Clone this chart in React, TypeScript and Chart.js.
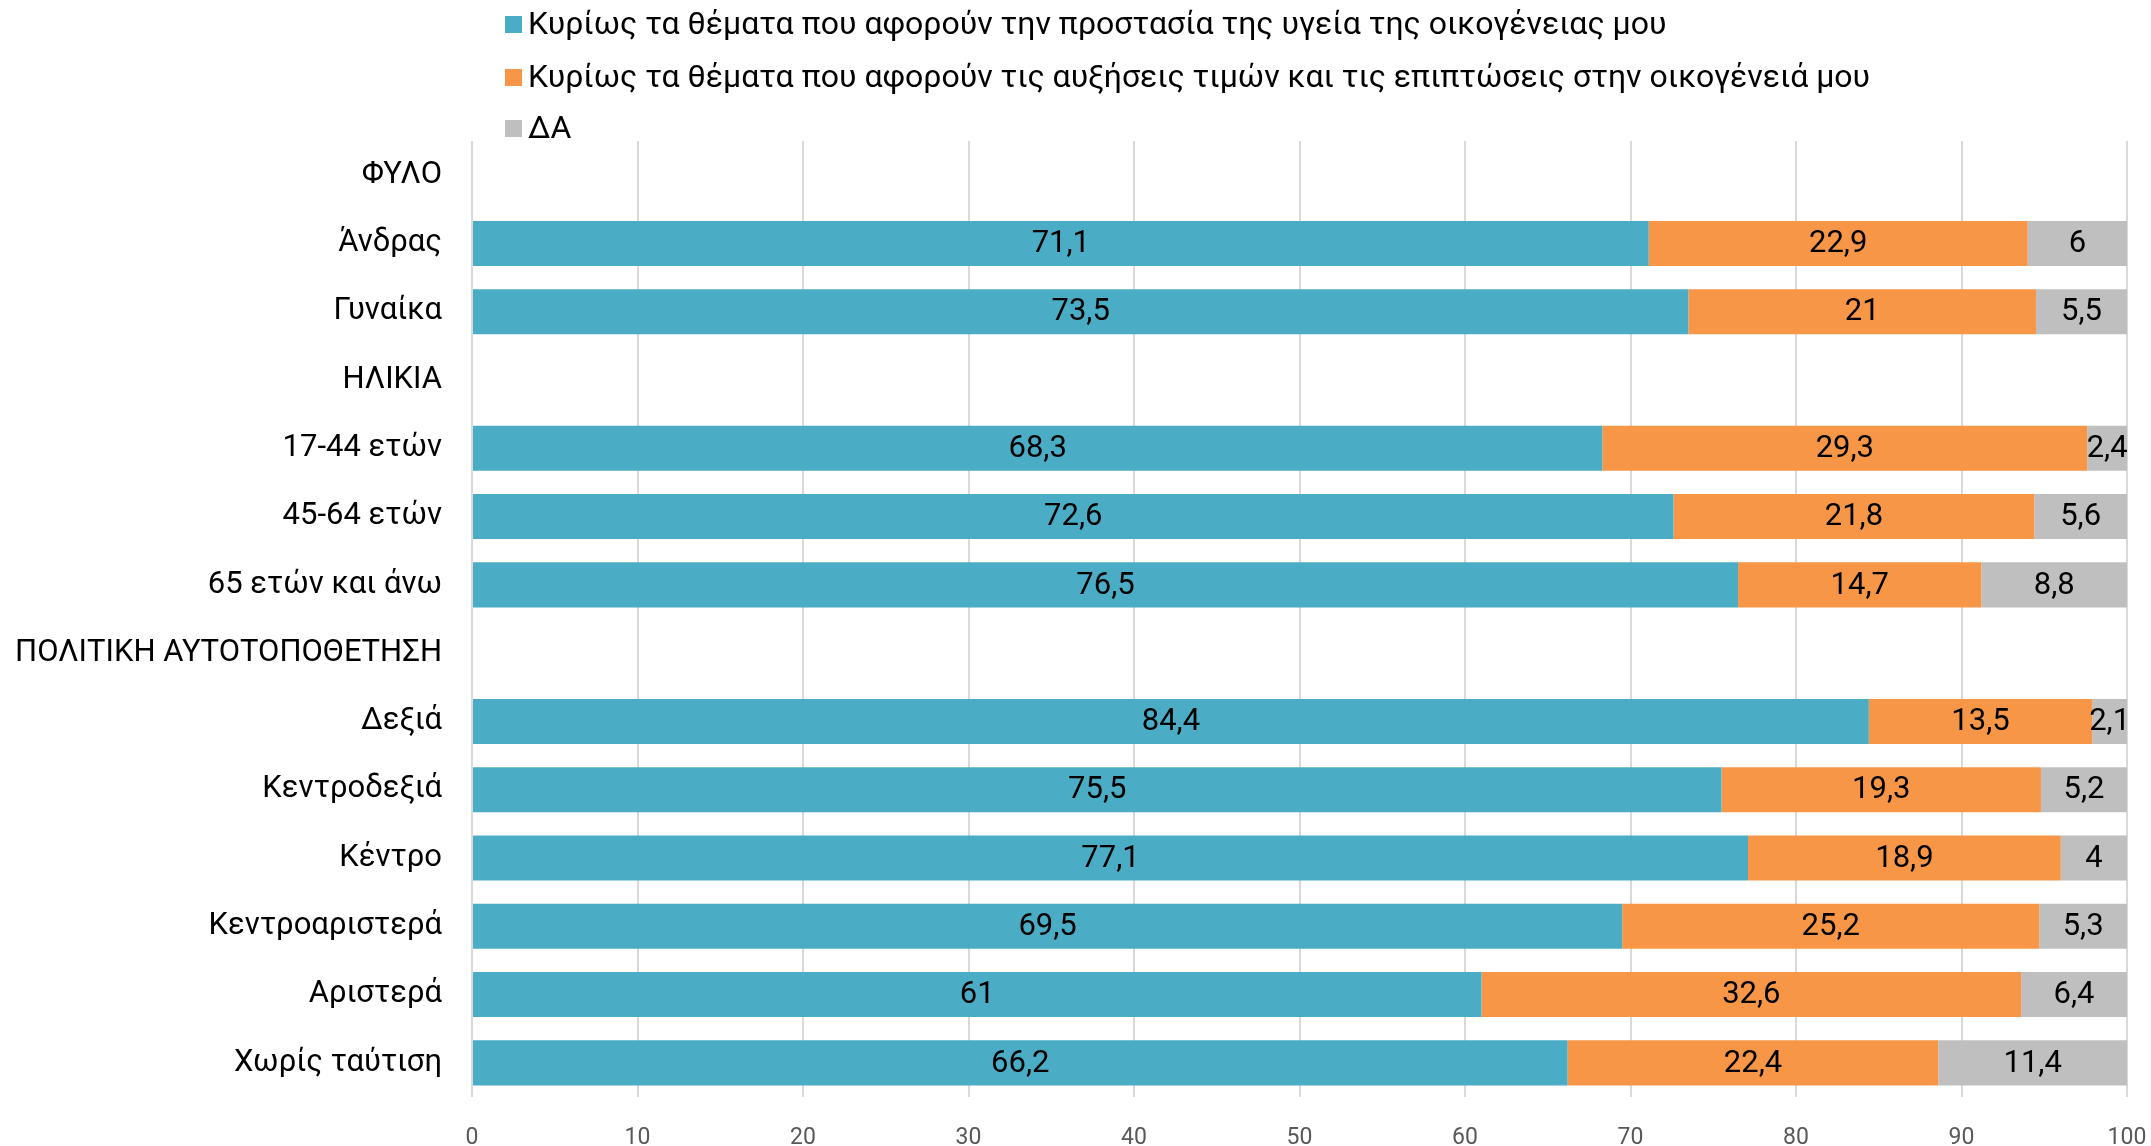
import React, { useEffect, useRef } from 'react';
import { Chart, registerables } from 'chart.js';

Chart.register(...registerables);

const categories = [
  'ΦΥΛΟ',
  'Άνδρας',
  'Γυναίκα',
  'ΗΛΙΚΙΑ',
  '17-44 ετών',
  '45-64 ετών',
  '65 ετών και άνω',
  'ΠΟΛΙΤΙΚΗ ΑΥΤΟΤΟΠΟΘΕΤΗΣΗ',
  'Δεξιά',
  'Κεντροδεξιά',
  'Κέντρο',
  'Κεντροαριστερά',
  'Αριστερά',
  'Χωρίς ταύτιση',
];

const healthValues = [null, 71.1, 73.5, null, 68.3, 72.6, 76.5, null, 84.4, 75.5, 77.1, 69.5, 61, 66.2];
const pricesValues = [null, 22.9, 21, null, 29.3, 21.8, 14.7, null, 13.5, 19.3, 18.9, 25.2, 32.6, 22.4];
const dkValues = [null, 6, 5.5, null, 2.4, 5.6, 8.8, null, 2.1, 5.2, 4, 5.3, 6.4, 11.4];

const seriesNames = [
  'Κυρίως τα θέματα που αφορούν την προστασία της υγεία της οικογένειας μου',
  'Κυρίως τα θέματα που αφορούν τις αυξήσεις τιμών και τις επιπτώσεις στην οικογένειά μου',
  'ΔΑ',
];
const seriesColors = ['#4BACC6', '#F79646', '#BFBFBF'];

const xMin = 0;
const xMax = 100;
const xStep = 10;

const FONT = 'Roboto';

const labelPlugin = {
  id: 'segLabels',
  afterDatasetsDraw(chart: any) {
    const ctx = chart.ctx;
    ctx.save();
    ctx.font = `31px ${FONT}`;
    ctx.fillStyle = '#000000';
    ctx.textAlign = 'center';
    ctx.textBaseline = 'middle';
    chart.data.datasets.forEach((ds: any, di: number) => {
      const meta = chart.getDatasetMeta(di);
      meta.data.forEach((el: any, i: number) => {
        const v = ds.data[i];
        if (v === null || v === undefined) return;
        const cx = (el.x + el.base) / 2;
        ctx.fillText(String(v).replace('.', ','), cx, el.y + 1);
      });
    });
    ctx.restore();
  },
};

const legendPlugin = {
  id: 'customLegend',
  afterDraw(chart: any) {
    const ctx = chart.ctx;
    ctx.save();
    ctx.font = `32px ${FONT}`;
    ctx.textAlign = 'left';
    ctx.textBaseline = 'middle';
    const rows = [25, 78, 129];
    chart.data.datasets.forEach((ds: any, i: number) => {
      const y = rows[i];
      ctx.fillStyle = ds.backgroundColor;
      ctx.fillRect(505, y - 9, 17, 17);
      ctx.fillStyle = '#000000';
      ctx.fillText(ds.label, 528, y + 1);
    });
    ctx.restore();
  },
};

export default function App() {
  const canvasRef = useRef<HTMLCanvasElement | null>(null);

  useEffect(() => {
    if (!canvasRef.current) return;
    const datasets = [healthValues, pricesValues, dkValues].map((vals, i) => ({
      label: seriesNames[i],
      data: vals,
      backgroundColor: seriesColors[i],
      borderWidth: 0,
      barPercentage: 0.66,
      categoryPercentage: 1,
    }));
    const chart = new Chart(canvasRef.current, {
      type: 'bar',
      data: { labels: categories, datasets },
      options: {
        indexAxis: 'y',
        responsive: false,
        animation: false,
        devicePixelRatio: 1,
        layout: { padding: { top: 141, right: 24, bottom: 0, left: 0 } },
        plugins: {
          legend: { display: false },
          tooltip: { enabled: false },
          title: { display: false },
        },
        scales: {
          x: {
            stacked: true,
            min: xMin,
            max: xMax,
            ticks: {
              stepSize: xStep,
              font: { family: FONT, size: 23 },
              color: '#595959',
              padding: 27,
              maxRotation: 0,
            },
            grid: { color: '#D9D9D9', lineWidth: 2, drawTicks: false },
            border: { display: false },
            afterFit: (scale: any) => {
              scale.height = 49;
              scale.paddingLeft = 0;
              scale.paddingRight = 0;
            },
          },
          y: {
            stacked: true,
            ticks: {
              font: { family: FONT, size: 31 },
              color: '#000000',
              padding: 30,
              autoSkip: false,
            },
            grid: { display: false, drawTicks: false },
            border: { display: false },
            afterFit: (scale: any) => {
              scale.width = 472;
              scale.paddingTop = 0;
              scale.paddingBottom = 0;
            },
          },
        },
      },
      plugins: [labelPlugin, legendPlugin],
    } as any);
    return () => chart.destroy();
  }, []);

  return (
    <div style={{ position: 'fixed', left: 0, top: 0, width: 2151, height: 1146, background: '#ffffff' }}>
      <canvas ref={canvasRef} width={2151} height={1146} style={{ display: 'block' }} />
    </div>
  );
}
